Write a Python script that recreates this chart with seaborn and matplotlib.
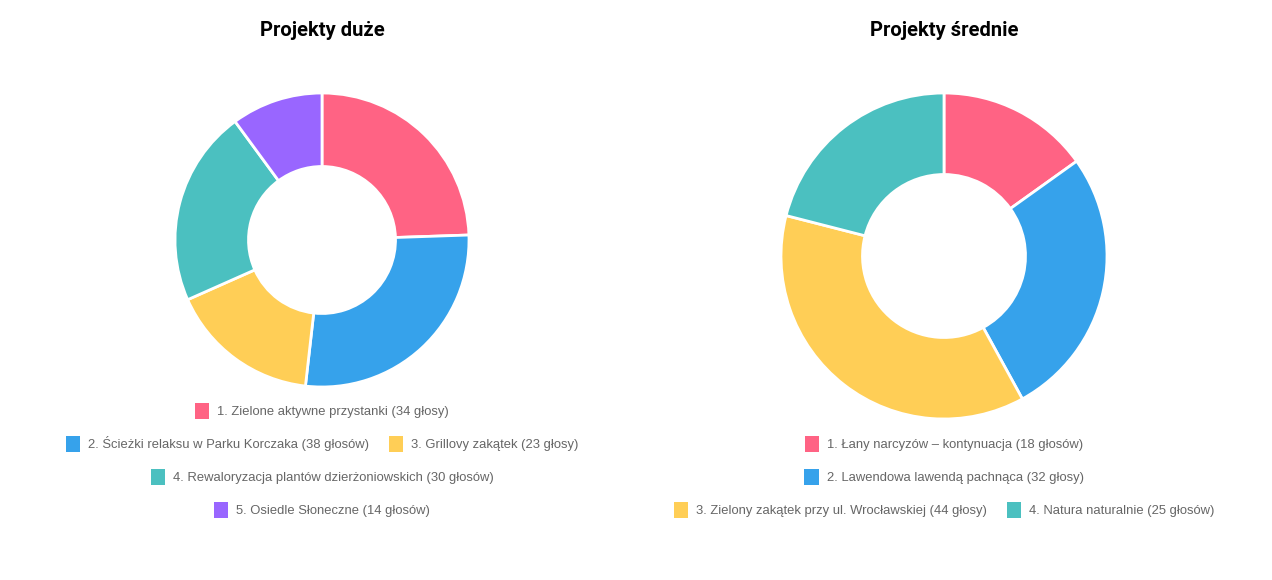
import matplotlib
matplotlib.use("Agg")
import matplotlib.pyplot as plt
import seaborn as sns
from matplotlib.patches import Patch

sns.set_theme(style="white")
plt.rcParams['font.family'] = ['Liberation Sans', 'DejaVu Sans']

# data
duze_labels = ["1. Zielone aktywne przystanki (34 głosy)",
               "2. Ścieżki relaksu w Parku Korczaka (38 głosów)",
               "3. Grillovy zakątek (23 głosy)",
               "4. Rewaloryzacja plantów dzierżoniowskich (30 głosów)",
               "5. Osiedle Słoneczne (14 głosów)"]
duze_votes = [34, 38, 23, 30, 14]
duze_rows = [[0], [1, 2], [3], [4]]

srednie_labels = ["1. Łany narcyzów – kontynuacja (18 głosów)",
                  "2. Lawendowa lawendą pachnąca (32 głosy)",
                  "3. Zielony zakątek przy ul. Wrocławskiej (44 głosy)",
                  "4. Natura naturalnie (25 głosów)"]
srednie_votes = [18, 32, 44, 25]
srednie_rows = [[0], [1], [2, 3]]

colors = sns.color_palette(["#FF6384", "#36A2EB", "#FFCE56", "#4BC0C0", "#9966FF"])

W, H = 1272, 580
fig = plt.figure(figsize=(W / 100, H / 100), dpi=100)


def doughnut(cx, cy, r, votes, labels, rows, title, y0):
    ax = fig.add_axes([(cx - r) / W, (H - cy - r) / H, 2 * r / W, 2 * r / H])
    ax.pie(votes, colors=colors[:len(votes)], startangle=90, counterclock=False,
           radius=1, wedgeprops=dict(width=0.5, edgecolor="white", linewidth=2))
    ax.set_xlim(-1.0, 1.0)
    ax.set_ylim(-1.0, 1.0)
    ax.axis("off")
    fig.text(cx / W, 1 - 30 / H, title, ha="center", va="center", color="black",
             fontsize=14.5, fontweight="bold", family=["Roboto", "DejaVu Sans"])
    for i, row in enumerate(rows):
        handles = [Patch(facecolor=colors[k], edgecolor="none") for k in row]
        leg = fig.legend(handles, [labels[k] for k in row], ncol=len(row),
                         loc="center", bbox_to_anchor=(cx / W, 1 - (y0 + 33 * i) / H),
                         frameon=False, fontsize=9.4, handlelength=1.1, handleheight=1.5,
                         handletextpad=0.6, columnspacing=1.5, borderpad=0)
        for t in leg.get_texts():
            t.set_color("#666666")


doughnut(322, 240, 147, duze_votes, duze_labels, duze_rows, "Projekty duże", 411)
doughnut(944, 256, 163, srednie_votes, srednie_labels, srednie_rows, "Projekty średnie", 444)

fig.savefig("out.png", dpi=100, facecolor="white")
